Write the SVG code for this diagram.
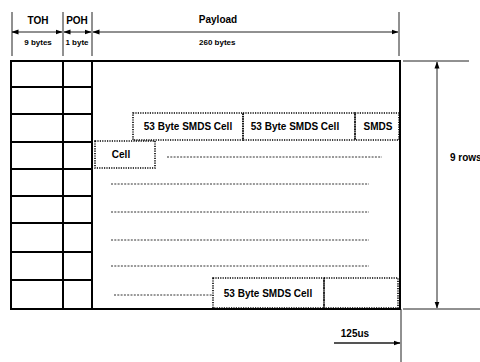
<svg xmlns="http://www.w3.org/2000/svg" width="480" height="362" viewBox="0 0 480 362">
<style>
text{font-family:"Liberation Sans",Arial,sans-serif;font-weight:bold;fill:#000}
.t10{font-size:10px}
.t8{font-size:8px}
.grid{stroke:#000;stroke-width:2;fill:none}
.dim{stroke:#222;stroke-width:1;fill:none}
.dimg{stroke:#555;stroke-width:2;fill:none}
.dbox{stroke:#000;stroke-width:1.6;stroke-dasharray:1.2,1.2;fill:none}
.dline{stroke:#333;stroke-width:1;stroke-dasharray:2,1.3;fill:none}
</style>
<defs>
<marker id="ah" markerWidth="7" markerHeight="6" refX="6.5" refY="3" orient="auto-start-reverse" markerUnits="userSpaceOnUse">
<path d="M0,0.5 L7,3 L0,5.5 Z" fill="#000"/>
</marker>
</defs>
<g id="frame">
<rect x="11" y="61" width="389" height="248" class="grid"/>
<line x1="63" y1="61" x2="63" y2="309" class="grid"/>
<line x1="92" y1="61" x2="92" y2="309" class="grid"/>
<path class="grid" d="M11,87H92 M11,114H92 M11,142H92 M11,169H92 M11,196H92 M11,223H92 M11,252H92 M11,280H92"/>
</g>
<g id="connectors">
<line x1="12" y1="12" x2="12" y2="56" class="dim"/>
<line x1="63" y1="12" x2="63" y2="56" class="dim"/>
<line x1="92" y1="12" x2="92" y2="56" class="dim"/>
<line x1="399" y1="12" x2="399" y2="56" class="dim"/>
<line x1="12" y1="32" x2="62" y2="32" class="dim" marker-start="url(#ah)" marker-end="url(#ah)"/>
<line x1="64" y1="32" x2="91" y2="32" class="dim" marker-start="url(#ah)" marker-end="url(#ah)"/>
<line x1="93" y1="32" x2="398" y2="32" class="dim" marker-start="url(#ah)" marker-end="url(#ah)"/>
<line x1="403" y1="61" x2="469" y2="61" class="dim"/>
<line x1="403" y1="309" x2="480" y2="309" class="dim"/>
<line x1="437" y1="62" x2="437" y2="308" class="dim" marker-start="url(#ah)" marker-end="url(#ah)"/>
<line x1="401" y1="309" x2="401" y2="362" class="dim"/>
<line x1="334" y1="343" x2="400" y2="343" class="dimg" marker-end="url(#ah)"/>
<line x1="167" y1="157" x2="382" y2="157" class="dline"/>
<line x1="111" y1="184" x2="369" y2="184" class="dline"/>
<line x1="111" y1="212" x2="369" y2="212" class="dline"/>
<line x1="111" y1="240" x2="369" y2="240" class="dline"/>
<line x1="111" y1="266" x2="369" y2="266" class="dline"/>
<line x1="114" y1="295" x2="213" y2="295" class="dline"/>
</g>
<g id="labels">
<text x="38" y="24" class="t10" text-anchor="middle">TOH</text>
<text x="77" y="24" class="t10" text-anchor="middle">POH</text>
<text x="218" y="23" class="t10" text-anchor="middle">Payload</text>
<text x="38" y="45" class="t8" text-anchor="middle">9 bytes</text>
<text x="77" y="45" class="t8" text-anchor="middle">1 byte</text>
<text x="199" y="45" class="t8">260 bytes</text>
<text x="450" y="160.5" class="t10">9 rows</text>
<text x="355" y="337" class="t10" text-anchor="middle">125us</text>
</g>
<g id="cell1">
<rect x="133" y="113" width="110" height="27" class="dbox"/>
<text x="188" y="130" class="t10" text-anchor="middle">53 Byte SMDS Cell</text>
</g>
<g id="cell2">
<rect x="243" y="113" width="112" height="27" class="dbox"/>
<text x="295" y="130" class="t10" text-anchor="middle">53 Byte SMDS Cell</text>
</g>
<g id="cell3">
<rect x="355" y="113" width="44" height="27" class="dbox"/>
<text x="378" y="130" class="t10" text-anchor="middle">SMDS</text>
</g>
<g id="cell4">
<rect x="95" y="141" width="60" height="27" class="dbox"/>
<text x="121" y="158" class="t10" text-anchor="middle">Cell</text>
</g>
<g id="cell5">
<rect x="213" y="278" width="111" height="30" class="dbox"/>
<text x="268" y="297" class="t10" text-anchor="middle">53 Byte SMDS Cell</text>
</g>
<g id="cell6">
<rect x="324" y="278" width="74" height="30" class="dbox"/>
</g>
</svg>
